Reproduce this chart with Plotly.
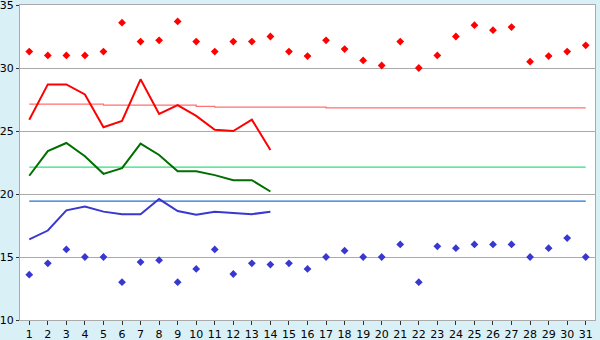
import plotly.graph_objects as go

days = list(range(1, 32))
max_temps = [31.3, 31.0, 31.0, 31.0, 31.3, 33.6, 32.1, 32.2, 33.7, 32.1,
             31.3, 32.1, 32.1, 32.5, 31.3, 30.95, 32.2, 31.5, 30.6, 30.2,
             32.1, 30.0, 31.0, 32.5, 33.4, 33.0, 33.25, 30.5, 30.95, 31.3, 31.8]
min_temps = [13.6, 14.5, 15.6, 15.0, 15.0, 13.0, 14.6, 14.75, 13.0, 14.05,
             15.6, 13.65, 14.5, 14.4, 14.5, 14.05, 15.0, 15.5, 15.0, 15.0,
             16.0, 13.0, 15.85, 15.7, 16.0, 16.0, 16.0, 15.0, 15.7, 16.5, 15.0]
line_days = list(range(1, 15))
avg_max = [25.9, 28.7, 28.7, 27.9, 25.3, 25.8, 29.1, 26.35, 27.05, 26.2,
           25.1, 25.0, 25.9, 23.5]
avg_mean = [21.45, 23.4, 24.05, 23.0, 21.6, 22.05, 24.0, 23.1, 21.8, 21.8,
            21.5, 21.1, 21.1, 20.2]
avg_min = [16.4, 17.1, 18.7, 19.0, 18.6, 18.4, 18.4, 19.6, 18.65, 18.35,
           18.6, 18.5, 18.4, 18.6]
norm_max = [27.14, 27.14, 27.14, 27.14, 27.06, 27.06, 27.06, 27.06, 27.06, 26.95,
            26.9, 26.9, 26.9, 26.9, 26.9, 26.9, 26.83, 26.83, 26.83, 26.83,
            26.83, 26.83, 26.83, 26.83, 26.83, 26.83, 26.83, 26.83, 26.83, 26.83, 26.83]
norm_mean = [22.14] * 31
norm_min = [19.44] * 31
y_ticks = [10, 15, 20, 25, 30, 35]

fig = go.Figure()
fig.add_trace(go.Scatter(x=days, y=norm_max, mode="lines", line=dict(color="#ff7070", width=1.2, shape="hv")))
fig.add_trace(go.Scatter(x=days, y=norm_mean, mode="lines", line=dict(color="#2ee07a", width=1.2)))
fig.add_trace(go.Scatter(x=days, y=norm_min, mode="lines", line=dict(color="#1e74d8", width=1.2)))
fig.add_trace(go.Scatter(x=line_days, y=avg_max, mode="lines", line=dict(color="#ff0000", width=2)))
fig.add_trace(go.Scatter(x=line_days, y=avg_mean, mode="lines", line=dict(color="#006e00", width=2)))
fig.add_trace(go.Scatter(x=line_days, y=avg_min, mode="lines", line=dict(color="#3838d0", width=2)))
fig.add_trace(go.Scatter(x=days, y=max_temps, mode="markers",
                         marker=dict(symbol="diamond", size=6, color="#ff0000")))
fig.add_trace(go.Scatter(x=days, y=min_temps, mode="markers",
                         marker=dict(symbol="diamond", size=6, color="#3838d0")))

fig.update_layout(
    width=600, height=340,
    margin=dict(l=20, r=5, t=5, b=20),
    paper_bgcolor="#daf0f7",
    plot_bgcolor="#ffffff",
    showlegend=False,
    font=dict(family="DejaVu Sans", size=11, color="#000000"),
)
fig.update_xaxes(range=[0.5, 31.5], tickvals=days, ticktext=[str(d) for d in days],
                 showgrid=False, zeroline=False, showline=True, linecolor="#aaaaaa",
                 linewidth=1, mirror=True, ticks="outside", ticklen=4, tickcolor="#333333",
                 automargin=False)
fig.update_yaxes(range=[10, 35], tickvals=y_ticks, ticktext=[str(v) for v in y_ticks],
                 showgrid=True, gridcolor="#aaaaaa", gridwidth=1, zeroline=False,
                 showline=True, linecolor="#aaaaaa", linewidth=1, mirror=True,
                 ticks="outside", ticklen=3, tickcolor="#333333",
                 ticklabeloverflow="allow", automargin=False)

fig.write_html("out.html")
